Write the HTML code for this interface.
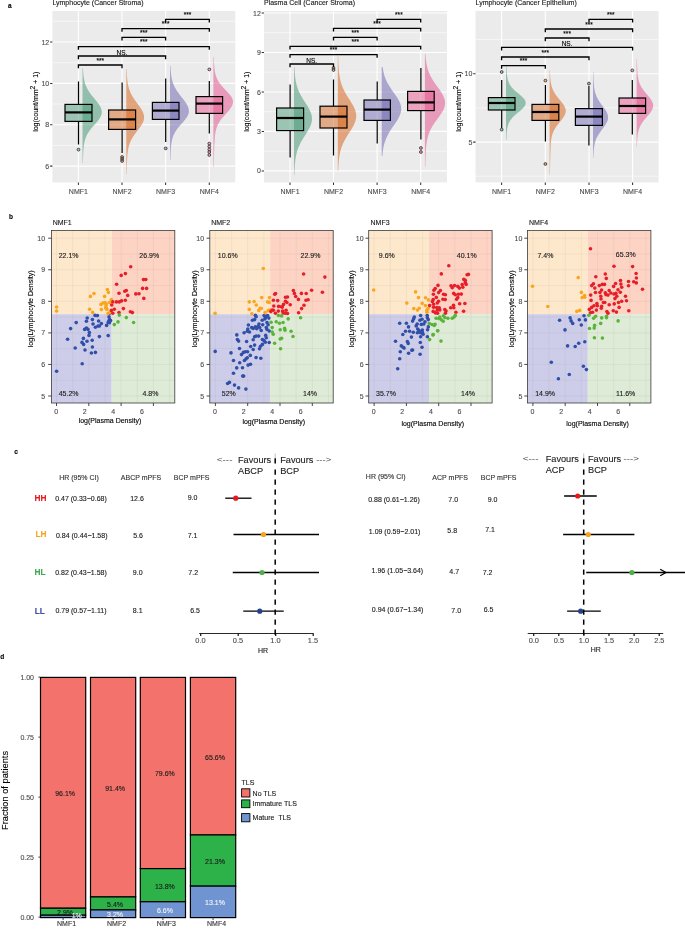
<!DOCTYPE html>
<html lang="en"><head><meta charset="utf-8"><title>Figure</title>
<style>html,body{margin:0;padding:0;background:#fff}body{width:685px;height:929px;overflow:hidden}svg{display:block;font-family:'Liberation Sans', sans-serif}text{stroke-width:0.12px}</style>
</head><body>
<svg width="685" height="929" viewBox="0 0 685 929">
<rect width="685" height="929" fill="#fff"/>
<text x="9.8" y="7.53" font-size="6.5" fill="#000" stroke="#000" text-anchor="middle" font-weight="bold">a</text>
<text x="11" y="219.33" font-size="6.5" fill="#000" stroke="#000" text-anchor="middle" font-weight="bold">b</text>
<text x="16" y="453.83" font-size="6.5" fill="#000" stroke="#000" text-anchor="middle" font-weight="bold">c</text>
<text x="2.2" y="658.83" font-size="6.5" fill="#000" stroke="#000" text-anchor="middle" font-weight="bold">d</text>
<g>
<rect x="52.4" y="11" width="182.9" height="171.4" fill="#EBEBEB"/>
<path d="M52.4 21.3H235.3M52.4 62.7H235.3M52.4 104H235.3M52.4 145.4H235.3" stroke="#fff" stroke-width="0.55" fill="none"/>
<path d="M52.4 42H235.3M52.4 83.4H235.3M52.4 124.7H235.3M52.4 166.1H235.3M78.4 11V182.4M122 11V182.4M165.6 11V182.4M209.3 11V182.4" stroke="#fff" stroke-width="1.1" fill="none"/>
<path d="M82.5 68L82.95 68L83.01 69.36L83.09 70.71L83.18 72.07L83.29 73.43L83.42 74.79L83.57 76.14L83.76 77.5L83.98 78.86L84.25 80.21L84.56 81.57L84.93 82.93L85.37 84.29L85.87 85.64L86.45 87L87.1 88.36L87.84 89.71L88.66 91.07L89.55 92.43L90.52 93.79L91.55 95.14L92.64 96.5L93.75 97.86L94.88 99.21L96.01 100.57L97.1 101.93L98.14 103.29L99.09 104.64L99.93 106L100.63 107.36L101.19 108.71L101.57 110.07L101.77 111.43L101.78 112.79L101.58 114.14L101.16 115.5L100.55 116.86L99.77 118.21L98.84 119.57L97.79 120.93L96.65 122.29L95.47 123.64L94.26 125L93.06 126.36L91.9 127.71L90.79 129.07L89.76 130.43L88.8 131.79L87.95 133.14L87.18 134.5L86.51 135.86L85.93 137.21L85.43 138.57L85 139.93L84.65 141.29L84.35 142.64L84.1 144L83.9 145.36L83.73 146.71L83.59 148.07L83.47 149.43L83.37 150.79L83.29 152.14L83.22 153.5L83.15 154.86L83.1 156.21L83.05 157.57L83 158.93L82.96 160.29L82.92 161.64L82.88 163L82.5 163Z" fill="#429872" fill-opacity="0.52"/>
<path d="M126.3 69L126.68 69L126.73 70.5L126.79 72L126.86 73.5L126.94 75L127.03 76.5L127.15 78L127.29 79.5L127.46 81L127.66 82.5L127.91 84L128.2 85.5L128.56 87L128.97 88.5L129.46 90L130.03 91.5L130.68 93L131.42 94.5L132.24 96L133.15 97.5L134.12 99L135.16 100.5L136.25 102L137.36 103.5L138.47 105L139.56 106.5L140.59 108L141.54 109.5L142.37 111L143.06 112.5L143.59 114L143.94 115.5L144.09 117L144.04 118.5L143.78 120L143.31 121.5L142.65 123L141.84 124.5L140.89 126L139.84 127.5L138.72 129L137.57 130.5L136.42 132L135.3 133.5L134.23 135L133.22 136.5L132.3 138L131.47 139.5L130.73 141L130.08 142.5L129.52 144L129.04 145.5L128.64 147L128.31 148.5L128.03 150L127.8 151.5L127.61 153L127.46 154.5L127.33 156L127.23 157.5L127.14 159L127.06 160.5L127 162L126.94 163.5L126.89 165L126.84 166.5L126.8 168L126.76 169.5L126.72 171L126.69 172.5L126.65 174L126.3 174Z" fill="#D66117" fill-opacity="0.52"/>
<path d="M170 66L170.44 66L170.51 67.34L170.58 68.69L170.67 70.03L170.77 71.37L170.89 72.71L171.04 74.06L171.22 75.4L171.42 76.74L171.67 78.09L171.96 79.43L172.3 80.77L172.69 82.11L173.15 83.46L173.67 84.8L174.26 86.14L174.93 87.49L175.67 88.83L176.48 90.17L177.36 91.51L178.3 92.86L179.29 94.2L180.32 95.54L181.38 96.89L182.45 98.23L183.5 99.57L184.52 100.91L185.48 102.26L186.36 103.6L187.13 104.94L187.79 106.29L188.3 107.63L188.67 108.97L188.86 110.31L188.89 111.66L188.71 113L188.31 114.34L187.73 115.69L186.96 117.03L186.05 118.37L185.02 119.71L183.91 121.06L182.74 122.4L181.55 123.74L180.37 125.09L179.22 126.43L178.12 127.77L177.1 129.11L176.16 130.46L175.31 131.8L174.56 133.14L173.9 134.49L173.32 135.83L172.83 137.17L172.41 138.51L172.06 139.86L171.77 141.2L171.53 142.54L171.33 143.89L171.16 145.23L171.03 146.57L170.91 147.91L170.82 149.26L170.74 150.6L170.66 151.94L170.6 153.29L170.55 154.63L170.5 155.97L170.46 157.31L170.42 158.66L170.38 160L170 160Z" fill="#6E66B3" fill-opacity="0.52"/>
<path d="M213.4 57L213.8 57L213.85 58.57L213.91 60.14L213.98 61.71L214.06 63.29L214.15 64.86L214.27 66.43L214.41 68L214.6 69.57L214.82 71.14L215.11 72.71L215.47 74.29L215.92 75.86L216.48 77.43L217.16 79L217.97 80.57L218.93 82.14L220.03 83.71L221.26 85.29L222.62 86.86L224.07 88.43L225.57 90L227.08 91.57L228.53 93.14L229.87 94.71L231.04 96.29L231.97 97.86L232.62 99.43L232.96 101L232.96 102.57L232.66 104.14L232.07 105.71L231.23 107.29L230.16 108.86L228.93 110.43L227.58 112L226.16 113.57L224.74 115.14L223.35 116.71L222.03 118.29L220.82 119.86L219.72 121.43L218.76 123L217.92 124.57L217.22 126.14L216.63 127.71L216.15 129.29L215.76 130.86L215.45 132.43L215.2 134L215.01 135.57L214.85 137.14L214.72 138.71L214.62 140.29L214.53 141.86L214.46 143.43L214.39 145L214.33 146.57L214.27 148.14L214.22 149.71L214.17 151.29L214.13 152.86L214.08 154.43L214.04 156L214 157.57L213.96 159.14L213.92 160.71L213.89 162.29L213.85 163.86L213.82 165.43L213.79 167L213.4 167Z" fill="#E7518D" fill-opacity="0.52"/>
<circle cx="78.5" cy="149.6" r="1.4" fill="#429872" fill-opacity="0.5" stroke="#2a2a2a" stroke-width="0.8"/>
<path d="M78.5 81.6V104.4M78.5 121.4V144.4" stroke="#000" stroke-width="1.2" fill="none"/>
<rect x="65" y="104.4" width="27" height="17" fill="#429872" fill-opacity="0.48" stroke="#000" stroke-width="1.2"/>
<path d="M65 112.4H92" stroke="#000" stroke-width="2.2" fill="none"/>
<circle cx="122.1" cy="157" r="1.4" fill="#D66117" fill-opacity="0.5" stroke="#2a2a2a" stroke-width="0.8"/>
<circle cx="122.1" cy="159" r="1.4" fill="#D66117" fill-opacity="0.5" stroke="#2a2a2a" stroke-width="0.8"/>
<circle cx="122.1" cy="161" r="1.4" fill="#D66117" fill-opacity="0.5" stroke="#2a2a2a" stroke-width="0.8"/>
<path d="M122.1 82.4V110M122.1 129.4V153" stroke="#000" stroke-width="1.2" fill="none"/>
<rect x="108.6" y="110" width="27" height="19.4" fill="#D66117" fill-opacity="0.48" stroke="#000" stroke-width="1.2"/>
<path d="M108.6 119.4H135.6" stroke="#000" stroke-width="2.2" fill="none"/>
<circle cx="165.7" cy="148.4" r="1.4" fill="#6E66B3" fill-opacity="0.5" stroke="#2a2a2a" stroke-width="0.8"/>
<path d="M165.7 78.6V102.4M165.7 119.4V142" stroke="#000" stroke-width="1.2" fill="none"/>
<rect x="152.4" y="102.4" width="26.6" height="17" fill="#6E66B3" fill-opacity="0.48" stroke="#000" stroke-width="1.2"/>
<path d="M152.4 110.6H179" stroke="#000" stroke-width="2.2" fill="none"/>
<circle cx="209.3" cy="69.4" r="1.4" fill="#E7518D" fill-opacity="0.5" stroke="#2a2a2a" stroke-width="0.8"/>
<circle cx="209.3" cy="143.6" r="1.4" fill="#E7518D" fill-opacity="0.5" stroke="#2a2a2a" stroke-width="0.8"/>
<circle cx="209.3" cy="146.5" r="1.4" fill="#E7518D" fill-opacity="0.5" stroke="#2a2a2a" stroke-width="0.8"/>
<circle cx="209.3" cy="149.5" r="1.4" fill="#E7518D" fill-opacity="0.5" stroke="#2a2a2a" stroke-width="0.8"/>
<circle cx="209.3" cy="152" r="1.4" fill="#E7518D" fill-opacity="0.5" stroke="#2a2a2a" stroke-width="0.8"/>
<circle cx="209.3" cy="155" r="1.4" fill="#E7518D" fill-opacity="0.5" stroke="#2a2a2a" stroke-width="0.8"/>
<path d="M209.3 81V96.6M209.3 113.4V133.6" stroke="#000" stroke-width="1.2" fill="none"/>
<rect x="196" y="96.6" width="26.6" height="16.8" fill="#E7518D" fill-opacity="0.48" stroke="#000" stroke-width="1.2"/>
<path d="M196 103.6H222.6" stroke="#000" stroke-width="2.2" fill="none"/>
<path d="M78.4 68.2V65H122V68.2" stroke="#000" stroke-width="1.3" fill="none"/>
<text x="100.2" y="62.7" font-size="6.5" fill="#000" stroke="#000" text-anchor="middle">***</text>
<path d="M78.4 59.2V56H165.6V59.2" stroke="#000" stroke-width="1.3" fill="none"/>
<text x="122" y="54.8" font-size="6.5" fill="#000" stroke="#000" text-anchor="middle">NS.</text>
<path d="M78.4 49.8V46.6H209.3V49.8" stroke="#000" stroke-width="1.3" fill="none"/>
<text x="143.85" y="44.3" font-size="6.5" fill="#000" stroke="#000" text-anchor="middle">***</text>
<path d="M122 40.6V37.4H165.6V40.6" stroke="#000" stroke-width="1.3" fill="none"/>
<text x="143.8" y="35.1" font-size="6.5" fill="#000" stroke="#000" text-anchor="middle">***</text>
<path d="M122 31.8V28.6H209.3V31.8" stroke="#000" stroke-width="1.3" fill="none"/>
<text x="165.65" y="26.3" font-size="6.5" fill="#000" stroke="#000" text-anchor="middle">***</text>
<path d="M165.6 22.6V19.4H209.3V22.6" stroke="#000" stroke-width="1.3" fill="none"/>
<text x="187.45" y="17.1" font-size="6.5" fill="#000" stroke="#000" text-anchor="middle">***</text>
<text x="49.2" y="44.51" font-size="7" fill="#4D4D4D" stroke="#4D4D4D" text-anchor="end">12</text>
<text x="49.2" y="85.91" font-size="7" fill="#4D4D4D" stroke="#4D4D4D" text-anchor="end">10</text>
<text x="49.2" y="127.21" font-size="7" fill="#4D4D4D" stroke="#4D4D4D" text-anchor="end">8</text>
<text x="49.2" y="168.61" font-size="7" fill="#4D4D4D" stroke="#4D4D4D" text-anchor="end">6</text>
<text x="78.4" y="194.01" font-size="7" fill="#4D4D4D" stroke="#4D4D4D" text-anchor="middle">NMF1</text>
<text x="122" y="194.01" font-size="7" fill="#4D4D4D" stroke="#4D4D4D" text-anchor="middle">NMF2</text>
<text x="165.6" y="194.01" font-size="7" fill="#4D4D4D" stroke="#4D4D4D" text-anchor="middle">NMF3</text>
<text x="209.3" y="194.01" font-size="7" fill="#4D4D4D" stroke="#4D4D4D" text-anchor="middle">NMF4</text>
<path d="M50.1 42H52.4M50.1 83.4H52.4M50.1 124.7H52.4M50.1 166.1H52.4M78.4 182.4V185.1M122 182.4V185.1M165.6 182.4V185.1M209.3 182.4V185.1" stroke="#333" stroke-width="1.05" fill="none"/>
<text x="52.4" y="4.9" font-size="7" fill="#1a1a1a" stroke="#1a1a1a">Lymphocyte (Cancer Stroma)</text>
<text x="37.6" y="101.7" font-size="7" fill="#000" stroke="#000" text-anchor="middle" transform="rotate(-90 37.6 101.7)">log(count/mm<tspan dy="-2.6" font-size="6.6">2</tspan><tspan dy="2.6"> + 1)</tspan></text>
</g>
<g>
<rect x="264" y="11" width="183" height="171.4" fill="#EBEBEB"/>
<path d="M264 32.7H447M264 72.2H447M264 111.7H447M264 151.2H447" stroke="#fff" stroke-width="0.55" fill="none"/>
<path d="M264 13H447M264 52.5H447M264 92H447M264 131.4H447M264 170.9H447M290 11V182.4M333.5 11V182.4M377.1 11V182.4M420.7 11V182.4" stroke="#fff" stroke-width="1.1" fill="none"/>
<path d="M294 67L294.44 67L294.51 68.54L294.59 70.09L294.68 71.63L294.79 73.17L294.92 74.71L295.08 76.26L295.26 77.8L295.48 79.34L295.73 80.89L296.03 82.43L296.38 83.97L296.78 85.51L297.24 87.06L297.77 88.6L298.35 90.14L299.01 91.69L299.73 93.23L300.52 94.77L301.36 96.31L302.26 97.86L303.2 99.4L304.18 100.94L305.17 102.49L306.16 104.03L307.13 105.57L308.07 107.11L308.94 108.66L309.74 110.2L310.45 111.74L311.03 113.29L311.49 114.83L311.81 116.37L311.97 117.91L311.99 119.46L311.84 121L311.55 122.54L311.11 124.09L310.55 125.63L309.86 127.17L309.08 128.71L308.22 130.26L307.3 131.8L306.33 133.34L305.35 134.89L304.36 136.43L303.39 137.97L302.45 139.51L301.55 141.06L300.7 142.6L299.92 144.14L299.19 145.69L298.53 147.23L297.94 148.77L297.41 150.31L296.94 151.86L296.54 153.4L296.18 154.94L295.88 156.49L295.62 158.03L295.4 159.57L295.21 161.11L295.05 162.66L294.91 164.2L294.8 165.74L294.7 167.29L294.62 168.83L294.55 170.37L294.49 171.91L294.44 173.46L294.39 175L294 175Z" fill="#429872" fill-opacity="0.52"/>
<path d="M337.8 56L338.18 56L338.23 57.64L338.27 59.29L338.33 60.93L338.39 62.57L338.46 64.21L338.55 65.86L338.65 67.5L338.76 69.14L338.9 70.79L339.07 72.43L339.26 74.07L339.5 75.71L339.77 77.36L340.09 79L340.47 80.64L340.9 82.29L341.41 83.93L341.97 85.57L342.62 87.21L343.33 88.86L344.12 90.5L344.97 92.14L345.89 93.79L346.86 95.43L347.87 97.07L348.91 98.71L349.96 100.36L350.99 102L351.99 103.64L352.92 105.29L353.78 106.93L354.54 108.57L355.17 110.21L355.67 111.86L356 113.5L356.18 115.14L356.18 116.79L356.01 118.43L355.68 120.07L355.19 121.71L354.56 123.36L353.81 125L352.95 126.64L352.01 128.29L351 129.93L349.97 131.57L348.92 133.21L347.87 134.86L346.85 136.5L345.87 138.14L344.94 139.79L344.08 141.43L343.28 143.07L342.56 144.71L341.91 146.36L341.33 148L340.82 149.64L340.38 151.29L340 152.93L339.67 154.57L339.39 156.21L339.16 157.86L338.96 159.5L338.79 161.14L338.65 162.79L338.54 164.43L338.44 166.07L338.35 167.71L338.28 169.36L338.22 171L337.8 171Z" fill="#D66117" fill-opacity="0.52"/>
<path d="M381.7 67L382.66 67L382.83 68.27L383.03 69.54L383.26 70.81L383.52 72.09L383.82 73.36L384.15 74.63L384.53 75.9L384.96 77.17L385.43 78.44L385.95 79.71L386.52 80.99L387.15 82.26L387.82 83.53L388.54 84.8L389.31 86.07L390.11 87.34L390.96 88.61L391.83 89.89L392.72 91.16L393.62 92.43L394.52 93.7L395.41 94.97L396.28 96.24L397.12 97.51L397.91 98.79L398.63 100.06L399.29 101.33L399.86 102.6L400.34 103.87L400.72 105.14L401 106.41L401.16 107.69L401.2 108.96L401.13 110.23L400.95 111.5L400.67 112.77L400.29 114.04L399.81 115.31L399.25 116.59L398.6 117.86L397.9 119.13L397.13 120.4L396.33 121.67L395.49 122.94L394.62 124.21L393.75 125.49L392.88 126.76L392.02 128.03L391.17 129.3L390.35 130.57L389.57 131.84L388.82 133.11L388.11 134.39L387.45 135.66L386.83 136.93L386.26 138.2L385.74 139.47L385.26 140.74L384.83 142.01L384.44 143.29L384.1 144.56L383.79 145.83L383.52 147.1L383.28 148.37L383.07 149.64L382.89 150.91L382.73 152.19L382.59 153.46L382.47 154.73L382.36 156L381.7 156Z" fill="#6E66B3" fill-opacity="0.52"/>
<path d="M424.9 54L425.47 54L425.57 55.61L425.69 57.21L425.84 58.82L426.02 60.43L426.24 62.04L426.49 63.64L426.8 65.25L427.15 66.86L427.57 68.46L428.06 70.07L428.62 71.68L429.25 73.29L429.97 74.89L430.77 76.5L431.65 78.11L432.61 79.71L433.63 81.32L434.72 82.93L435.85 84.54L437 86.14L438.17 87.75L439.32 89.36L440.43 90.96L441.48 92.57L442.43 94.18L443.27 95.79L443.97 97.39L444.52 99L444.89 100.61L445.08 102.21L445.07 103.82L444.87 105.43L444.48 107.04L443.91 108.64L443.17 110.25L442.3 111.86L441.31 113.46L440.23 115.07L439.09 116.68L437.92 118.29L436.74 119.89L435.58 121.5L434.45 123.11L433.39 124.71L432.38 126.32L431.46 127.93L430.62 129.54L429.87 131.14L429.2 132.75L428.61 134.36L428.1 135.96L427.66 137.57L427.29 139.18L426.97 140.79L426.7 142.39L426.48 144L426.29 145.61L426.13 147.21L426 148.82L425.89 150.43L425.79 152.04L425.71 153.64L425.64 155.25L425.57 156.86L425.52 158.46L425.47 160.07L425.42 161.68L425.38 163.29L425.34 164.89L425.3 166.5L424.9 166.5Z" fill="#E7518D" fill-opacity="0.52"/>
<path d="M290.1 84.6V108M290.1 130.6V157.6" stroke="#000" stroke-width="1.2" fill="none"/>
<rect x="276.6" y="108" width="27" height="22.6" fill="#429872" fill-opacity="0.48" stroke="#000" stroke-width="1.2"/>
<path d="M276.6 118H303.6" stroke="#000" stroke-width="2.2" fill="none"/>
<circle cx="333.5" cy="68" r="1.4" fill="#D66117" fill-opacity="0.5" stroke="#2a2a2a" stroke-width="0.8"/>
<circle cx="333.5" cy="70" r="1.4" fill="#D66117" fill-opacity="0.5" stroke="#2a2a2a" stroke-width="0.8"/>
<path d="M333.5 79.4V106.2M333.5 128V155.6" stroke="#000" stroke-width="1.2" fill="none"/>
<rect x="320" y="106.2" width="27" height="21.8" fill="#D66117" fill-opacity="0.48" stroke="#000" stroke-width="1.2"/>
<path d="M320 116.6H347" stroke="#000" stroke-width="2.2" fill="none"/>
<path d="M377.2 81.4V100M377.2 120.4V143.6" stroke="#000" stroke-width="1.2" fill="none"/>
<rect x="364" y="100" width="26.4" height="20.4" fill="#6E66B3" fill-opacity="0.48" stroke="#000" stroke-width="1.2"/>
<path d="M364 109.6H390.4" stroke="#000" stroke-width="2.2" fill="none"/>
<circle cx="420.9" cy="148" r="1.4" fill="#E7518D" fill-opacity="0.5" stroke="#2a2a2a" stroke-width="0.8"/>
<circle cx="420.9" cy="152" r="1.4" fill="#E7518D" fill-opacity="0.5" stroke="#2a2a2a" stroke-width="0.8"/>
<path d="M420.9 68V91.4M420.9 110.6V139.4" stroke="#000" stroke-width="1.2" fill="none"/>
<rect x="407.6" y="91.4" width="26.6" height="19.2" fill="#E7518D" fill-opacity="0.48" stroke="#000" stroke-width="1.2"/>
<path d="M407.6 102.4H434.2" stroke="#000" stroke-width="2.2" fill="none"/>
<path d="M290 67.2V64H333.5V67.2" stroke="#000" stroke-width="1.3" fill="none"/>
<text x="311.75" y="62.8" font-size="6.5" fill="#000" stroke="#000" text-anchor="middle">NS.</text>
<path d="M290 57.8V54.6H377.1V57.8" stroke="#000" stroke-width="1.3" fill="none"/>
<text x="333.55" y="52.3" font-size="6.5" fill="#000" stroke="#000" text-anchor="middle">***</text>
<path d="M290 49.5V46.3H420.7V49.5" stroke="#000" stroke-width="1.3" fill="none"/>
<text x="355.35" y="44" font-size="6.5" fill="#000" stroke="#000" text-anchor="middle">***</text>
<path d="M333.5 40.6V37.4H377.1V40.6" stroke="#000" stroke-width="1.3" fill="none"/>
<text x="355.3" y="35.1" font-size="6.5" fill="#000" stroke="#000" text-anchor="middle">***</text>
<path d="M333.5 31.6V28.4H420.7V31.6" stroke="#000" stroke-width="1.3" fill="none"/>
<text x="377.1" y="26.1" font-size="6.5" fill="#000" stroke="#000" text-anchor="middle">***</text>
<path d="M377.1 22.6V19.4H420.7V22.6" stroke="#000" stroke-width="1.3" fill="none"/>
<text x="398.9" y="17.1" font-size="6.5" fill="#000" stroke="#000" text-anchor="middle">***</text>
<text x="260.8" y="15.51" font-size="7" fill="#4D4D4D" stroke="#4D4D4D" text-anchor="end">12</text>
<text x="260.8" y="55.01" font-size="7" fill="#4D4D4D" stroke="#4D4D4D" text-anchor="end">9</text>
<text x="260.8" y="94.51" font-size="7" fill="#4D4D4D" stroke="#4D4D4D" text-anchor="end">6</text>
<text x="260.8" y="133.91" font-size="7" fill="#4D4D4D" stroke="#4D4D4D" text-anchor="end">3</text>
<text x="260.8" y="173.41" font-size="7" fill="#4D4D4D" stroke="#4D4D4D" text-anchor="end">0</text>
<text x="290" y="194.01" font-size="7" fill="#4D4D4D" stroke="#4D4D4D" text-anchor="middle">NMF1</text>
<text x="333.5" y="194.01" font-size="7" fill="#4D4D4D" stroke="#4D4D4D" text-anchor="middle">NMF2</text>
<text x="377.1" y="194.01" font-size="7" fill="#4D4D4D" stroke="#4D4D4D" text-anchor="middle">NMF3</text>
<text x="420.7" y="194.01" font-size="7" fill="#4D4D4D" stroke="#4D4D4D" text-anchor="middle">NMF4</text>
<path d="M261.7 13H264M261.7 52.5H264M261.7 92H264M261.7 131.4H264M261.7 170.9H264M290 182.4V185.1M333.5 182.4V185.1M377.1 182.4V185.1M420.7 182.4V185.1" stroke="#333" stroke-width="1.05" fill="none"/>
<text x="264" y="4.9" font-size="7" fill="#1a1a1a" stroke="#1a1a1a">Plasma Cell (Cancer Stroma)</text>
<text x="249.1" y="101.7" font-size="7" fill="#000" stroke="#000" text-anchor="middle" transform="rotate(-90 249.1 101.7)">log(count/mm<tspan dy="-2.6" font-size="6.6">2</tspan><tspan dy="2.6"> + 1)</tspan></text>
</g>
<g>
<rect x="475.5" y="11" width="183.1" height="171.4" fill="#EBEBEB"/>
<path d="M475.5 39.4H658.6M475.5 107.8H658.6M475.5 176.2H658.6" stroke="#fff" stroke-width="0.55" fill="none"/>
<path d="M475.5 73.8H658.6M475.5 142.1H658.6M501.6 11V182.4M545.3 11V182.4M589 11V182.4M632.6 11V182.4" stroke="#fff" stroke-width="1.1" fill="none"/>
<path d="M506 64.5L506.39 64.5L506.43 65.58L506.47 66.66L506.52 67.74L506.57 68.81L506.62 69.89L506.69 70.97L506.76 72.05L506.84 73.13L506.93 74.21L507.05 75.29L507.19 76.36L507.35 77.44L507.56 78.52L507.8 79.6L508.1 80.68L508.47 81.76L508.91 82.84L509.43 83.91L510.05 84.99L510.77 86.07L511.6 87.15L512.53 88.23L513.56 89.31L514.69 90.39L515.89 91.46L517.16 92.54L518.45 93.62L519.75 94.7L521 95.78L522.18 96.86L523.25 97.94L524.15 99.01L524.88 100.09L525.38 101.17L525.65 102.25L525.68 103.33L525.46 104.41L525 105.49L524.32 106.56L523.44 107.64L522.41 108.72L521.25 109.8L520 110.88L518.71 111.96L517.41 113.04L516.13 114.11L514.91 115.19L513.76 116.27L512.71 117.35L511.75 118.43L510.9 119.51L510.16 120.59L509.52 121.66L508.97 122.74L508.51 123.82L508.13 124.9L507.82 125.98L507.56 127.06L507.34 128.14L507.17 129.21L507.03 130.29L506.91 131.37L506.81 132.45L506.72 133.53L506.65 134.61L506.59 135.69L506.53 136.76L506.48 137.84L506.44 138.92L506.4 140L506 140Z" fill="#429872" fill-opacity="0.52"/>
<path d="M549.6 70.5L549.94 70.5L549.99 71.99L550.04 73.47L550.11 74.96L550.2 76.44L550.3 77.93L550.43 79.41L550.59 80.9L550.8 82.39L551.06 83.87L551.38 85.36L551.79 86.84L552.29 88.33L552.89 89.81L553.6 91.3L554.43 92.79L555.39 94.27L556.44 95.76L557.6 97.24L558.81 98.73L560.06 100.21L561.3 101.7L562.48 103.19L563.54 104.67L564.45 106.16L565.15 107.64L565.6 109.13L565.79 110.61L565.71 112.1L565.36 113.59L564.76 115.07L563.94 116.56L562.95 118.04L561.83 119.53L560.63 121.01L559.41 122.5L558.21 123.99L557.05 125.47L555.99 126.96L555.03 128.44L554.18 129.93L553.45 131.41L552.84 132.9L552.33 134.39L551.92 135.87L551.59 137.36L551.33 138.84L551.13 140.33L550.97 141.81L550.84 143.3L550.74 144.79L550.66 146.27L550.59 147.76L550.53 149.24L550.48 150.73L550.43 152.21L550.38 153.7L550.34 155.19L550.3 156.67L550.26 158.16L550.23 159.64L550.19 161.13L550.16 162.61L550.12 164.1L550.09 165.59L550.06 167.07L550.03 168.56L550 170.04L549.97 171.53L549.95 173.01L549.92 174.5L549.6 174.5Z" fill="#D66117" fill-opacity="0.52"/>
<path d="M593 72L593.3 72L593.33 73.23L593.37 74.46L593.4 75.69L593.44 76.91L593.49 78.14L593.54 79.37L593.6 80.6L593.66 81.83L593.74 83.06L593.84 84.29L593.95 85.51L594.09 86.74L594.25 87.97L594.45 89.2L594.68 90.43L594.96 91.66L595.29 92.89L595.67 94.11L596.12 95.34L596.63 96.57L597.22 97.8L597.87 99.03L598.59 100.26L599.37 101.49L600.2 102.71L601.08 103.94L601.99 105.17L602.9 106.4L603.81 107.63L604.69 108.86L605.51 110.09L606.25 111.31L606.89 112.54L607.41 113.77L607.8 115L608.03 116.23L608.1 117.46L608.01 118.69L607.76 119.91L607.37 121.14L606.83 122.37L606.18 123.6L605.42 124.83L604.59 126.06L603.7 127.29L602.79 128.51L601.86 129.74L600.95 130.97L600.07 132.2L599.23 133.43L598.45 134.66L597.73 135.89L597.08 137.11L596.5 138.34L595.98 139.57L595.53 140.8L595.15 142.03L594.82 143.26L594.54 144.49L594.31 145.71L594.11 146.94L593.95 148.17L593.82 149.4L593.7 150.63L593.61 151.86L593.53 153.09L593.47 154.31L593.41 155.54L593.36 156.77L593.32 158L593 158Z" fill="#6E66B3" fill-opacity="0.52"/>
<path d="M636.6 59L636.93 59L636.96 60.25L636.99 61.5L637.03 62.75L637.07 64L637.11 65.25L637.15 66.5L637.21 67.75L637.26 69L637.33 70.25L637.41 71.5L637.5 72.75L637.61 74L637.74 75.25L637.91 76.5L638.1 77.75L638.34 79L638.63 80.25L638.97 81.5L639.38 82.75L639.87 84L640.43 85.25L641.08 86.5L641.82 87.75L642.64 89L643.53 90.25L644.5 91.5L645.52 92.75L646.58 94L647.65 95.25L648.7 96.5L649.71 97.75L650.64 99L651.47 100.25L652.16 101.5L652.69 102.75L653.04 104L653.19 105.25L653.15 106.5L652.9 107.75L652.47 109L651.87 110.25L651.11 111.5L650.23 112.75L649.25 114L648.21 115.25L647.14 116.5L646.07 117.75L645.01 119L644 120.25L643.06 121.5L642.18 122.75L641.39 124L640.68 125.25L640.06 126.5L639.53 127.75L639.07 129L638.68 130.25L638.35 131.5L638.08 132.75L637.86 134L637.68 135.25L637.53 136.5L637.4 137.75L637.3 139L637.21 140.25L637.14 141.5L637.08 142.75L637.03 144L636.98 145.25L636.94 146.5L636.6 146.5Z" fill="#E7518D" fill-opacity="0.52"/>
<circle cx="501.7" cy="72" r="1.4" fill="#429872" fill-opacity="0.5" stroke="#2a2a2a" stroke-width="0.8"/>
<circle cx="501.7" cy="129.6" r="1.4" fill="#429872" fill-opacity="0.5" stroke="#2a2a2a" stroke-width="0.8"/>
<path d="M501.7 80V97.6M501.7 110V128" stroke="#000" stroke-width="1.2" fill="none"/>
<rect x="488.4" y="97.6" width="26.6" height="12.4" fill="#429872" fill-opacity="0.48" stroke="#000" stroke-width="1.2"/>
<path d="M488.4 103H515" stroke="#000" stroke-width="2.2" fill="none"/>
<circle cx="545.4" cy="80.6" r="1.4" fill="#D66117" fill-opacity="0.5" stroke="#2a2a2a" stroke-width="0.8"/>
<circle cx="545.4" cy="164" r="1.4" fill="#D66117" fill-opacity="0.5" stroke="#2a2a2a" stroke-width="0.8"/>
<path d="M545.4 85V104.4M545.4 120.4V141.4" stroke="#000" stroke-width="1.2" fill="none"/>
<rect x="532" y="104.4" width="26.8" height="16" fill="#D66117" fill-opacity="0.48" stroke="#000" stroke-width="1.2"/>
<path d="M532 112H558.8" stroke="#000" stroke-width="2.2" fill="none"/>
<circle cx="588.9" cy="83.6" r="1.4" fill="#6E66B3" fill-opacity="0.5" stroke="#2a2a2a" stroke-width="0.8"/>
<path d="M588.9 86V108.6M588.9 125.4V145.4" stroke="#000" stroke-width="1.2" fill="none"/>
<rect x="575.4" y="108.6" width="27" height="16.8" fill="#6E66B3" fill-opacity="0.48" stroke="#000" stroke-width="1.2"/>
<path d="M575.4 116.6H602.4" stroke="#000" stroke-width="2.2" fill="none"/>
<circle cx="632.3" cy="70.4" r="1.4" fill="#E7518D" fill-opacity="0.5" stroke="#2a2a2a" stroke-width="0.8"/>
<path d="M632.3 80V98M632.3 113.4V134.4" stroke="#000" stroke-width="1.2" fill="none"/>
<rect x="619" y="98" width="26.6" height="15.4" fill="#E7518D" fill-opacity="0.48" stroke="#000" stroke-width="1.2"/>
<path d="M619 106H645.6" stroke="#000" stroke-width="2.2" fill="none"/>
<path d="M501.6 68.8V65.6H545.3V68.8" stroke="#000" stroke-width="1.3" fill="none"/>
<text x="523.45" y="63.3" font-size="6.5" fill="#000" stroke="#000" text-anchor="middle">***</text>
<path d="M501.6 60.2V57H589V60.2" stroke="#000" stroke-width="1.3" fill="none"/>
<text x="545.3" y="54.7" font-size="6.5" fill="#000" stroke="#000" text-anchor="middle">***</text>
<path d="M501.6 50.6V47.4H632.6V50.6" stroke="#000" stroke-width="1.3" fill="none"/>
<text x="567.1" y="46.2" font-size="6.5" fill="#000" stroke="#000" text-anchor="middle">NS.</text>
<path d="M545.3 41.2V38H589V41.2" stroke="#000" stroke-width="1.3" fill="none"/>
<text x="567.15" y="35.7" font-size="6.5" fill="#000" stroke="#000" text-anchor="middle">***</text>
<path d="M545.3 32.2V29H632.6V32.2" stroke="#000" stroke-width="1.3" fill="none"/>
<text x="588.95" y="26.7" font-size="6.5" fill="#000" stroke="#000" text-anchor="middle">***</text>
<path d="M589 22.6V19.4H632.6V22.6" stroke="#000" stroke-width="1.3" fill="none"/>
<text x="610.8" y="17.1" font-size="6.5" fill="#000" stroke="#000" text-anchor="middle">***</text>
<text x="472.3" y="76.31" font-size="7" fill="#4D4D4D" stroke="#4D4D4D" text-anchor="end">10</text>
<text x="472.3" y="144.61" font-size="7" fill="#4D4D4D" stroke="#4D4D4D" text-anchor="end">5</text>
<text x="501.6" y="194.01" font-size="7" fill="#4D4D4D" stroke="#4D4D4D" text-anchor="middle">NMF1</text>
<text x="545.3" y="194.01" font-size="7" fill="#4D4D4D" stroke="#4D4D4D" text-anchor="middle">NMF2</text>
<text x="589" y="194.01" font-size="7" fill="#4D4D4D" stroke="#4D4D4D" text-anchor="middle">NMF3</text>
<text x="632.6" y="194.01" font-size="7" fill="#4D4D4D" stroke="#4D4D4D" text-anchor="middle">NMF4</text>
<path d="M473.2 73.8H475.5M473.2 142.1H475.5M501.6 182.4V185.1M545.3 182.4V185.1M589 182.4V185.1M632.6 182.4V185.1" stroke="#333" stroke-width="1.05" fill="none"/>
<text x="475.5" y="4.9" font-size="7" fill="#1a1a1a" stroke="#1a1a1a">Lymphocyte (Cancer Epithelium)</text>
<text x="460.7" y="101.7" font-size="7" fill="#000" stroke="#000" text-anchor="middle" transform="rotate(-90 460.7 101.7)">log(count/mm<tspan dy="-2.6" font-size="6.6">2</tspan><tspan dy="2.6"> + 1)</tspan></text>
</g>
<g>
<rect x="51.4" y="230.4" width="60.3" height="83.8" fill="#FEE8CC"/>
<rect x="111.7" y="230.4" width="63.1" height="83.8" fill="#FDD3C4"/>
<rect x="51.4" y="314.2" width="60.3" height="88.8" fill="#CDCDE9"/>
<rect x="111.7" y="314.2" width="63.1" height="88.8" fill="#DEEBD6"/>
<path d="M56.5 230.4V403M72.65 230.4V403M88.8 230.4V403M104.95 230.4V403M121.1 230.4V403M137.25 230.4V403M153.4 230.4V403M169.55 230.4V403M51.4 238.2H174.8M51.4 253.98H174.8M51.4 269.76H174.8M51.4 285.54H174.8M51.4 301.32H174.8M51.4 317.1H174.8M51.4 332.88H174.8M51.4 348.66H174.8M51.4 364.44H174.8M51.4 380.22H174.8M51.4 396H174.8" stroke="#8c8c8c" stroke-opacity="0.12" stroke-width="0.8" fill="none"/>
<g fill="#2F4FA8">
<circle cx="56.6" cy="371.2" r="1.8"/><circle cx="82.2" cy="363.8" r="1.8"/><circle cx="67.6" cy="339.2" r="1.8"/><circle cx="70.6" cy="328.6" r="1.8"/><circle cx="76.2" cy="322.6" r="1.8"/><circle cx="75.2" cy="348" r="1.8"/><circle cx="85" cy="350" r="1.8"/><circle cx="91.4" cy="353" r="1.8"/><circle cx="95.4" cy="352.4" r="1.8"/><circle cx="92.4" cy="347" r="1.8"/><circle cx="82" cy="342.4" r="1.8"/><circle cx="83.6" cy="344.4" r="1.8"/><circle cx="83.4" cy="338.4" r="1.8"/><circle cx="87" cy="341.2" r="1.8"/><circle cx="92.2" cy="340.2" r="1.8"/><circle cx="89" cy="335.4" r="1.8"/><circle cx="89.4" cy="332.6" r="1.8"/><circle cx="84.6" cy="329.4" r="1.8"/><circle cx="86.4" cy="328" r="1.8"/><circle cx="88" cy="329.4" r="1.8"/><circle cx="99.4" cy="336.6" r="1.8"/><circle cx="108.2" cy="335.6" r="1.8"/><circle cx="86.4" cy="321.2" r="1.8"/><circle cx="87.2" cy="318" r="1.8"/><circle cx="92.4" cy="319.6" r="1.8"/><circle cx="93" cy="324" r="1.8"/><circle cx="95.4" cy="327.2" r="1.8"/><circle cx="98" cy="326" r="1.8"/><circle cx="99.4" cy="326" r="1.8"/><circle cx="101.4" cy="323.6" r="1.8"/><circle cx="106.6" cy="325.4" r="1.8"/><circle cx="97.4" cy="315.6" r="1.8"/><circle cx="95" cy="315.4" r="1.8"/><circle cx="98.6" cy="321" r="1.8"/><circle cx="109" cy="317" r="1.8"/><circle cx="109.6" cy="319.6" r="1.8"/><circle cx="110.6" cy="320.6" r="1.8"/><circle cx="108.2" cy="322.4" r="1.8"/><circle cx="109" cy="314" r="1.8"/><circle cx="108.8" cy="321" r="1.8"/><circle cx="109.5" cy="322.8" r="1.8"/>
</g>
<g fill="#FAA51E">
<circle cx="56.6" cy="307" r="1.8"/><circle cx="56.6" cy="311" r="1.8"/><circle cx="90.4" cy="296.4" r="1.8"/><circle cx="94" cy="293.6" r="1.8"/><circle cx="89.6" cy="309.2" r="1.8"/><circle cx="92.6" cy="312.4" r="1.8"/><circle cx="104.6" cy="296.4" r="1.8"/><circle cx="107.4" cy="289.6" r="1.8"/><circle cx="108.4" cy="292.4" r="1.8"/><circle cx="111.4" cy="299.6" r="1.8"/><circle cx="101" cy="304.4" r="1.8"/><circle cx="103" cy="303" r="1.8"/><circle cx="105.4" cy="303" r="1.8"/><circle cx="101.4" cy="309.6" r="1.8"/><circle cx="106" cy="306" r="1.8"/><circle cx="107" cy="309.4" r="1.8"/><circle cx="109.6" cy="302.4" r="1.8"/><circle cx="108" cy="313.6" r="1.8"/><circle cx="110" cy="312.4" r="1.8"/><circle cx="105.6" cy="308" r="1.8"/><circle cx="106" cy="307.4" r="1.8"/><circle cx="106.3" cy="303.9" r="1.8"/><circle cx="104.6" cy="302.8" r="1.8"/>
</g>
<g fill="#E61E28">
<circle cx="130.7" cy="266.8" r="1.8"/><circle cx="121.2" cy="275.4" r="1.8"/><circle cx="125.4" cy="273.6" r="1.8"/><circle cx="143.5" cy="279.6" r="1.8"/><circle cx="145.8" cy="279.5" r="1.8"/><circle cx="116.6" cy="284.3" r="1.8"/><circle cx="142.6" cy="288.4" r="1.8"/><circle cx="146.6" cy="288.4" r="1.8"/><circle cx="119" cy="293.3" r="1.8"/><circle cx="124.8" cy="291.3" r="1.8"/><circle cx="126.3" cy="290.5" r="1.8"/><circle cx="127.7" cy="295.4" r="1.8"/><circle cx="135.8" cy="293.9" r="1.8"/><circle cx="139" cy="293.8" r="1.8"/><circle cx="143.8" cy="298.4" r="1.8"/><circle cx="112.8" cy="301.9" r="1.8"/><circle cx="116.4" cy="301.9" r="1.8"/><circle cx="119.3" cy="301.9" r="1.8"/><circle cx="121.5" cy="300.9" r="1.8"/><circle cx="125.3" cy="300.3" r="1.8"/><circle cx="111.7" cy="305" r="1.8"/><circle cx="114.3" cy="309.2" r="1.8"/><circle cx="123.4" cy="308.6" r="1.8"/><circle cx="111.4" cy="310.4" r="1.8"/><circle cx="112.8" cy="313.3" r="1.8"/><circle cx="119" cy="312.6" r="1.8"/><circle cx="130.4" cy="311.7" r="1.8"/><circle cx="132.4" cy="312.6" r="1.8"/>
</g>
<g fill="#5AB43C">
<circle cx="119.3" cy="315.1" r="1.8"/><circle cx="126.3" cy="317.6" r="1.8"/><circle cx="133.6" cy="322.5" r="1.8"/><circle cx="118" cy="321.9" r="1.8"/><circle cx="114.3" cy="324.6" r="1.8"/>
</g>
<rect x="51.4" y="230.4" width="123.4" height="172.6" fill="none" stroke="#3a3a3a" stroke-width="0.8"/>
<text x="45.1" y="240.71" font-size="7" fill="#4D4D4D" stroke="#4D4D4D" text-anchor="end">10</text>
<text x="45.1" y="272.27" font-size="7" fill="#4D4D4D" stroke="#4D4D4D" text-anchor="end">9</text>
<text x="45.1" y="303.83" font-size="7" fill="#4D4D4D" stroke="#4D4D4D" text-anchor="end">8</text>
<text x="45.1" y="335.39" font-size="7" fill="#4D4D4D" stroke="#4D4D4D" text-anchor="end">7</text>
<text x="45.1" y="366.95" font-size="7" fill="#4D4D4D" stroke="#4D4D4D" text-anchor="end">6</text>
<text x="45.1" y="398.51" font-size="7" fill="#4D4D4D" stroke="#4D4D4D" text-anchor="end">5</text>
<text x="56.1" y="414.41" font-size="7" fill="#4D4D4D" stroke="#4D4D4D" text-anchor="middle">0</text>
<text x="84.7" y="414.41" font-size="7" fill="#4D4D4D" stroke="#4D4D4D" text-anchor="middle">2</text>
<text x="113.3" y="414.41" font-size="7" fill="#4D4D4D" stroke="#4D4D4D" text-anchor="middle">4</text>
<text x="141.9" y="414.41" font-size="7" fill="#4D4D4D" stroke="#4D4D4D" text-anchor="middle">6</text>
<path d="M48.2 238.2H51.4M48.2 269.76H51.4M48.2 301.32H51.4M48.2 332.88H51.4M48.2 364.44H51.4M48.2 396H51.4M56.5 403V406M88.8 403V406M121.1 403V406M153.4 403V406" stroke="#333" stroke-width="0.9" fill="none"/>
<text x="52.7" y="225" font-size="7" fill="#1a1a1a" stroke="#1a1a1a">NMF1</text>
<text x="33.01" y="308.8" font-size="7" fill="#000" stroke="#000" text-anchor="middle" transform="rotate(-90 33.01 308.8)">log(Lymphocyte Density)</text>
<text x="110" y="422.91" font-size="7" fill="#000" stroke="#000" text-anchor="middle">log(Plasma Density)</text>
<text x="68.6" y="257.51" font-size="7" fill="#1a1a1a" stroke="#1a1a1a" text-anchor="middle">22.1%</text>
<text x="149.3" y="257.51" font-size="7" fill="#1a1a1a" stroke="#1a1a1a" text-anchor="middle">26.9%</text>
<text x="68.6" y="396.01" font-size="7" fill="#1a1a1a" stroke="#1a1a1a" text-anchor="middle">45.2%</text>
<text x="150.4" y="396.01" font-size="7" fill="#1a1a1a" stroke="#1a1a1a" text-anchor="middle">4.8%</text>
</g>
<g>
<rect x="209.8" y="230.4" width="60.3" height="83.8" fill="#FEE8CC"/>
<rect x="270.1" y="230.4" width="63.1" height="83.8" fill="#FDD3C4"/>
<rect x="209.8" y="314.2" width="60.3" height="88.8" fill="#CDCDE9"/>
<rect x="270.1" y="314.2" width="63.1" height="88.8" fill="#DEEBD6"/>
<path d="M215.4 230.4V403M231.55 230.4V403M247.7 230.4V403M263.85 230.4V403M280 230.4V403M296.15 230.4V403M312.3 230.4V403M328.45 230.4V403M209.8 238.2H333.2M209.8 253.98H333.2M209.8 269.76H333.2M209.8 285.54H333.2M209.8 301.32H333.2M209.8 317.1H333.2M209.8 332.88H333.2M209.8 348.66H333.2M209.8 364.44H333.2M209.8 380.22H333.2M209.8 396H333.2" stroke="#8c8c8c" stroke-opacity="0.12" stroke-width="0.8" fill="none"/>
<g fill="#2F4FA8">
<circle cx="215.2" cy="351.4" r="1.8"/><circle cx="231" cy="352.9" r="1.8"/><circle cx="236.8" cy="334.9" r="1.8"/><circle cx="237.4" cy="339.6" r="1.8"/><circle cx="238.6" cy="341.1" r="1.8"/><circle cx="239.5" cy="348.5" r="1.8"/><circle cx="233.5" cy="360.5" r="1.8"/><circle cx="239.7" cy="362.7" r="1.8"/><circle cx="236.7" cy="367.9" r="1.8"/><circle cx="242.5" cy="367.8" r="1.8"/><circle cx="233.5" cy="373.3" r="1.8"/><circle cx="242.7" cy="376.1" r="1.8"/><circle cx="243.7" cy="376.1" r="1.8"/><circle cx="227.6" cy="383.5" r="1.8"/><circle cx="229.4" cy="382.4" r="1.8"/><circle cx="234.5" cy="385.1" r="1.8"/><circle cx="238.6" cy="387.9" r="1.8"/><circle cx="245.9" cy="389.1" r="1.8"/><circle cx="241.5" cy="354.6" r="1.8"/><circle cx="243.4" cy="352.4" r="1.8"/><circle cx="245.4" cy="351.7" r="1.8"/><circle cx="247.6" cy="351.7" r="1.8"/><circle cx="244.4" cy="360.5" r="1.8"/><circle cx="245.9" cy="359" r="1.8"/><circle cx="247.3" cy="357.8" r="1.8"/><circle cx="250.3" cy="355.4" r="1.8"/><circle cx="248.1" cy="365.1" r="1.8"/><circle cx="250.5" cy="364.3" r="1.8"/><circle cx="256.1" cy="357.6" r="1.8"/><circle cx="260.8" cy="358.3" r="1.8"/><circle cx="246.6" cy="341.5" r="1.8"/><circle cx="250.7" cy="346.5" r="1.8"/><circle cx="254.6" cy="345.1" r="1.8"/><circle cx="253.2" cy="349.5" r="1.8"/><circle cx="259.5" cy="348.8" r="1.8"/><circle cx="260.5" cy="346.3" r="1.8"/><circle cx="262.4" cy="344.4" r="1.8"/><circle cx="265.3" cy="342.2" r="1.8"/><circle cx="269.2" cy="342.5" r="1.8"/><circle cx="253.2" cy="339.7" r="1.8"/><circle cx="254.6" cy="336.7" r="1.8"/><circle cx="256.1" cy="336.1" r="1.8"/><circle cx="258.7" cy="336.1" r="1.8"/><circle cx="262.4" cy="339.6" r="1.8"/><circle cx="264.1" cy="340.5" r="1.8"/><circle cx="265.7" cy="335.4" r="1.8"/><circle cx="266.3" cy="337.8" r="1.8"/><circle cx="244.1" cy="332.7" r="1.8"/><circle cx="247.3" cy="331.3" r="1.8"/><circle cx="249.5" cy="332" r="1.8"/><circle cx="247.8" cy="329.1" r="1.8"/><circle cx="248.4" cy="325" r="1.8"/><circle cx="251.7" cy="327.6" r="1.8"/><circle cx="253.2" cy="328.4" r="1.8"/><circle cx="255.4" cy="326.9" r="1.8"/><circle cx="256.8" cy="328.8" r="1.8"/><circle cx="258.3" cy="326.2" r="1.8"/><circle cx="259.7" cy="327.6" r="1.8"/><circle cx="261.2" cy="330.5" r="1.8"/><circle cx="259" cy="324" r="1.8"/><circle cx="262.7" cy="324.7" r="1.8"/><circle cx="252.4" cy="320.3" r="1.8"/><circle cx="254.6" cy="319.6" r="1.8"/><circle cx="262.2" cy="320.3" r="1.8"/><circle cx="267" cy="322.5" r="1.8"/><circle cx="268.1" cy="324.7" r="1.8"/><circle cx="266.3" cy="327.6" r="1.8"/><circle cx="267" cy="329.5" r="1.8"/><circle cx="269.2" cy="331" r="1.8"/><circle cx="255.4" cy="315.2" r="1.8"/><circle cx="256.1" cy="316.7" r="1.8"/><circle cx="264.1" cy="315.5" r="1.8"/><circle cx="265.6" cy="317.4" r="1.8"/><circle cx="267.5" cy="315.5" r="1.8"/><circle cx="268.9" cy="318.1" r="1.8"/><circle cx="264.9" cy="318.9" r="1.8"/>
</g>
<g fill="#FAA51E">
<circle cx="215.1" cy="313.2" r="1.8"/><circle cx="263.3" cy="268.5" r="1.8"/><circle cx="249.3" cy="301.9" r="1.8"/><circle cx="254.1" cy="301.5" r="1.8"/><circle cx="261.7" cy="297.6" r="1.8"/><circle cx="269.5" cy="297.6" r="1.8"/><circle cx="267.6" cy="301.9" r="1.8"/><circle cx="269.2" cy="302.4" r="1.8"/><circle cx="256.3" cy="305" r="1.8"/><circle cx="249.3" cy="309.4" r="1.8"/><circle cx="260" cy="308.2" r="1.8"/><circle cx="261.4" cy="308.5" r="1.8"/><circle cx="258.8" cy="310.4" r="1.8"/><circle cx="251.9" cy="313.8" r="1.8"/><circle cx="265.1" cy="312.6" r="1.8"/><circle cx="268" cy="310.7" r="1.8"/><circle cx="269.5" cy="310.1" r="1.8"/>
</g>
<g fill="#E61E28">
<circle cx="303.6" cy="274" r="1.8"/><circle cx="324.9" cy="277.1" r="1.8"/><circle cx="293.4" cy="290.5" r="1.8"/><circle cx="294.4" cy="293.4" r="1.8"/><circle cx="295.7" cy="296.5" r="1.8"/><circle cx="298.4" cy="299.4" r="1.8"/><circle cx="301.4" cy="293.4" r="1.8"/><circle cx="306.2" cy="293.5" r="1.8"/><circle cx="311.6" cy="290.3" r="1.8"/><circle cx="322.4" cy="292.3" r="1.8"/><circle cx="306" cy="300.3" r="1.8"/><circle cx="308.1" cy="299.7" r="1.8"/><circle cx="304" cy="305.2" r="1.8"/><circle cx="301.6" cy="308.6" r="1.8"/><circle cx="298.6" cy="312.8" r="1.8"/><circle cx="274.7" cy="294.3" r="1.8"/><circle cx="275.6" cy="293.6" r="1.8"/><circle cx="285.5" cy="297.2" r="1.8"/><circle cx="287.5" cy="297" r="1.8"/><circle cx="273.4" cy="300.3" r="1.8"/><circle cx="277.7" cy="300.6" r="1.8"/><circle cx="285.5" cy="301.2" r="1.8"/><circle cx="286.9" cy="302.5" r="1.8"/><circle cx="290.2" cy="304.8" r="1.8"/><circle cx="283.5" cy="304.4" r="1.8"/><circle cx="273.8" cy="306" r="1.8"/><circle cx="278.6" cy="306.4" r="1.8"/><circle cx="281.3" cy="306.8" r="1.8"/><circle cx="282.3" cy="307.1" r="1.8"/><circle cx="272.1" cy="310" r="1.8"/><circle cx="273.4" cy="310.3" r="1.8"/><circle cx="278.3" cy="311.1" r="1.8"/><circle cx="282.6" cy="311.1" r="1.8"/><circle cx="286.1" cy="310.3" r="1.8"/><circle cx="275.4" cy="313.3" r="1.8"/><circle cx="283.2" cy="312.9" r="1.8"/><circle cx="285.2" cy="313.3" r="1.8"/><circle cx="287.5" cy="313.5" r="1.8"/><circle cx="270.8" cy="311.6" r="1.8"/>
</g>
<g fill="#5AB43C">
<circle cx="300.6" cy="317.8" r="1.8"/><circle cx="288.2" cy="318.9" r="1.8"/><circle cx="278.4" cy="315.5" r="1.8"/><circle cx="281.6" cy="315.9" r="1.8"/><circle cx="271.1" cy="322.2" r="1.8"/><circle cx="276.2" cy="321.8" r="1.8"/><circle cx="279.5" cy="323.2" r="1.8"/><circle cx="283.1" cy="322.5" r="1.8"/><circle cx="272.2" cy="327.6" r="1.8"/><circle cx="280.2" cy="329.8" r="1.8"/><circle cx="284.6" cy="328.4" r="1.8"/><circle cx="285" cy="330.3" r="1.8"/><circle cx="291.1" cy="331.3" r="1.8"/><circle cx="272.2" cy="332" r="1.8"/><circle cx="273.2" cy="334.2" r="1.8"/><circle cx="293" cy="336.5" r="1.8"/><circle cx="280.2" cy="339" r="1.8"/><circle cx="281.6" cy="338.3" r="1.8"/><circle cx="274.6" cy="343.2" r="1.8"/><circle cx="280.6" cy="348.8" r="1.8"/>
</g>
<rect x="209.8" y="230.4" width="123.4" height="172.6" fill="none" stroke="#3a3a3a" stroke-width="0.8"/>
<text x="204.1" y="240.71" font-size="7" fill="#4D4D4D" stroke="#4D4D4D" text-anchor="end">10</text>
<text x="204.1" y="272.27" font-size="7" fill="#4D4D4D" stroke="#4D4D4D" text-anchor="end">9</text>
<text x="204.1" y="303.83" font-size="7" fill="#4D4D4D" stroke="#4D4D4D" text-anchor="end">8</text>
<text x="204.1" y="335.39" font-size="7" fill="#4D4D4D" stroke="#4D4D4D" text-anchor="end">7</text>
<text x="204.1" y="366.95" font-size="7" fill="#4D4D4D" stroke="#4D4D4D" text-anchor="end">6</text>
<text x="204.1" y="398.51" font-size="7" fill="#4D4D4D" stroke="#4D4D4D" text-anchor="end">5</text>
<text x="215" y="414.41" font-size="7" fill="#4D4D4D" stroke="#4D4D4D" text-anchor="middle">0</text>
<text x="243.6" y="414.41" font-size="7" fill="#4D4D4D" stroke="#4D4D4D" text-anchor="middle">2</text>
<text x="272.2" y="414.41" font-size="7" fill="#4D4D4D" stroke="#4D4D4D" text-anchor="middle">4</text>
<text x="300.8" y="414.41" font-size="7" fill="#4D4D4D" stroke="#4D4D4D" text-anchor="middle">6</text>
<path d="M206.6 238.2H209.8M206.6 269.76H209.8M206.6 301.32H209.8M206.6 332.88H209.8M206.6 364.44H209.8M206.6 396H209.8M215.4 403V406M247.7 403V406M280 403V406M312.3 403V406" stroke="#333" stroke-width="0.9" fill="none"/>
<text x="211.2" y="225" font-size="7" fill="#1a1a1a" stroke="#1a1a1a">NMF2</text>
<text x="196.91" y="308.8" font-size="7" fill="#000" stroke="#000" text-anchor="middle" transform="rotate(-90 196.91 308.8)">log(Lymphocyte Density)</text>
<text x="273.7" y="424.21" font-size="7" fill="#000" stroke="#000" text-anchor="middle">log(Plasma Density)</text>
<text x="227.7" y="257.51" font-size="7" fill="#1a1a1a" stroke="#1a1a1a" text-anchor="middle">10.6%</text>
<text x="310.5" y="257.51" font-size="7" fill="#1a1a1a" stroke="#1a1a1a" text-anchor="middle">22.9%</text>
<text x="228.8" y="396.01" font-size="7" fill="#1a1a1a" stroke="#1a1a1a" text-anchor="middle">52%</text>
<text x="310" y="396.01" font-size="7" fill="#1a1a1a" stroke="#1a1a1a" text-anchor="middle">14%</text>
</g>
<g>
<rect x="368.7" y="230.4" width="60.3" height="83.8" fill="#FEE8CC"/>
<rect x="429" y="230.4" width="63.1" height="83.8" fill="#FDD3C4"/>
<rect x="368.7" y="314.2" width="60.3" height="88.8" fill="#CDCDE9"/>
<rect x="429" y="314.2" width="63.1" height="88.8" fill="#DEEBD6"/>
<path d="M374.1 230.4V403M390.25 230.4V403M406.4 230.4V403M422.55 230.4V403M438.7 230.4V403M454.85 230.4V403M471 230.4V403M487.15 230.4V403M368.7 238.2H492.1M368.7 253.98H492.1M368.7 269.76H492.1M368.7 285.54H492.1M368.7 301.32H492.1M368.7 317.1H492.1M368.7 332.88H492.1M368.7 348.66H492.1M368.7 364.44H492.1M368.7 380.22H492.1M368.7 396H492.1" stroke="#8c8c8c" stroke-opacity="0.12" stroke-width="0.8" fill="none"/>
<g fill="#2F4FA8">
<circle cx="395.5" cy="341.2" r="1.8"/><circle cx="397.7" cy="368.8" r="1.8"/><circle cx="399.7" cy="358.7" r="1.8"/><circle cx="400.3" cy="351.7" r="1.8"/><circle cx="401.3" cy="345.9" r="1.8"/><circle cx="403.1" cy="347.3" r="1.8"/><circle cx="404.1" cy="348.1" r="1.8"/><circle cx="408.6" cy="353.2" r="1.8"/><circle cx="411.8" cy="350.3" r="1.8"/><circle cx="412.6" cy="350" r="1.8"/><circle cx="420.1" cy="354.2" r="1.8"/><circle cx="422" cy="347.3" r="1.8"/><circle cx="420.3" cy="342.5" r="1.8"/><circle cx="407.4" cy="341.5" r="1.8"/><circle cx="408.2" cy="343.4" r="1.8"/><circle cx="411.4" cy="337.1" r="1.8"/><circle cx="402.8" cy="334.5" r="1.8"/><circle cx="405.5" cy="331.3" r="1.8"/><circle cx="409.6" cy="331.3" r="1.8"/><circle cx="413.3" cy="332.3" r="1.8"/><circle cx="399.7" cy="323.2" r="1.8"/><circle cx="406.4" cy="323.2" r="1.8"/><circle cx="408.5" cy="326.9" r="1.8"/><circle cx="412.6" cy="321.1" r="1.8"/><circle cx="413.6" cy="318.9" r="1.8"/><circle cx="414.3" cy="317.1" r="1.8"/><circle cx="420.6" cy="315.5" r="1.8"/><circle cx="427.2" cy="315.5" r="1.8"/><circle cx="427.4" cy="317.7" r="1.8"/><circle cx="428.3" cy="319.6" r="1.8"/><circle cx="419.9" cy="320.3" r="1.8"/><circle cx="422" cy="319.3" r="1.8"/><circle cx="425" cy="321.8" r="1.8"/><circle cx="423.8" cy="324" r="1.8"/><circle cx="421.3" cy="324.4" r="1.8"/><circle cx="417.2" cy="324" r="1.8"/><circle cx="416.2" cy="325.9" r="1.8"/><circle cx="417.7" cy="329.1" r="1.8"/><circle cx="419.1" cy="330.5" r="1.8"/><circle cx="422.3" cy="330.1" r="1.8"/><circle cx="417.4" cy="332.7" r="1.8"/><circle cx="420.6" cy="332.7" r="1.8"/><circle cx="422.3" cy="332.3" r="1.8"/><circle cx="423.1" cy="334.2" r="1.8"/><circle cx="420.6" cy="336.8" r="1.8"/><circle cx="427.4" cy="336.8" r="1.8"/><circle cx="427.6" cy="329.8" r="1.8"/><circle cx="428.3" cy="326.9" r="1.8"/>
</g>
<g fill="#FAA51E">
<circle cx="373.7" cy="290" r="1.8"/><circle cx="415.6" cy="291.9" r="1.8"/><circle cx="418.5" cy="297.6" r="1.8"/><circle cx="425.5" cy="297.7" r="1.8"/><circle cx="428.4" cy="299.9" r="1.8"/><circle cx="406.8" cy="303.1" r="1.8"/><circle cx="422.2" cy="303.4" r="1.8"/><circle cx="425.4" cy="305.6" r="1.8"/><circle cx="413.8" cy="308.6" r="1.8"/><circle cx="417.5" cy="310.1" r="1.8"/><circle cx="419.2" cy="308.2" r="1.8"/><circle cx="428" cy="308.6" r="1.8"/><circle cx="426.8" cy="310.4" r="1.8"/><circle cx="427" cy="312.3" r="1.8"/>
</g>
<g fill="#E61E28">
<circle cx="448.8" cy="265.8" r="1.8"/><circle cx="441.3" cy="273.9" r="1.8"/><circle cx="467.1" cy="274.8" r="1.8"/><circle cx="468.4" cy="274.4" r="1.8"/><circle cx="463.8" cy="279.4" r="1.8"/><circle cx="465.3" cy="280.2" r="1.8"/><circle cx="465.3" cy="282.5" r="1.8"/><circle cx="466.1" cy="284.4" r="1.8"/><circle cx="462.2" cy="284.5" r="1.8"/><circle cx="438" cy="285.4" r="1.8"/><circle cx="451" cy="285.7" r="1.8"/><circle cx="452.2" cy="287.8" r="1.8"/><circle cx="454.5" cy="285.6" r="1.8"/><circle cx="457.8" cy="286.4" r="1.8"/><circle cx="459.4" cy="288.1" r="1.8"/><circle cx="462.8" cy="287.2" r="1.8"/><circle cx="435.2" cy="288.5" r="1.8"/><circle cx="433.9" cy="290.3" r="1.8"/><circle cx="440.4" cy="290.6" r="1.8"/><circle cx="438.6" cy="292.6" r="1.8"/><circle cx="433.4" cy="294.3" r="1.8"/><circle cx="443.5" cy="294.3" r="1.8"/><circle cx="445.4" cy="294.7" r="1.8"/><circle cx="453.7" cy="293.4" r="1.8"/><circle cx="455.3" cy="294.7" r="1.8"/><circle cx="458.4" cy="294.3" r="1.8"/><circle cx="461.3" cy="294.1" r="1.8"/><circle cx="436.3" cy="297.4" r="1.8"/><circle cx="457.8" cy="297.5" r="1.8"/><circle cx="456.6" cy="299.3" r="1.8"/><circle cx="433.2" cy="299.6" r="1.8"/><circle cx="442.9" cy="299.3" r="1.8"/><circle cx="445.2" cy="299.6" r="1.8"/><circle cx="432.4" cy="301.5" r="1.8"/><circle cx="438.6" cy="301.2" r="1.8"/><circle cx="437.3" cy="303" r="1.8"/><circle cx="433.6" cy="304.2" r="1.8"/><circle cx="429.6" cy="305.6" r="1.8"/><circle cx="459.7" cy="303.7" r="1.8"/><circle cx="464.9" cy="303.5" r="1.8"/><circle cx="453.5" cy="305.2" r="1.8"/><circle cx="450.7" cy="307.7" r="1.8"/><circle cx="453.8" cy="307.8" r="1.8"/><circle cx="433.6" cy="307.3" r="1.8"/><circle cx="436.7" cy="307.5" r="1.8"/><circle cx="439.2" cy="307.7" r="1.8"/><circle cx="437.3" cy="310.2" r="1.8"/><circle cx="439.8" cy="309.9" r="1.8"/><circle cx="444.8" cy="309.6" r="1.8"/><circle cx="446" cy="311" r="1.8"/><circle cx="433.2" cy="311.4" r="1.8"/><circle cx="435.5" cy="312.9" r="1.8"/><circle cx="437.6" cy="313.3" r="1.8"/><circle cx="445.4" cy="313.3" r="1.8"/><circle cx="455.9" cy="312.3" r="1.8"/><circle cx="463.6" cy="311.2" r="1.8"/>
</g>
<g fill="#5AB43C">
<circle cx="455.3" cy="315.4" r="1.8"/><circle cx="454.1" cy="317" r="1.8"/><circle cx="452.2" cy="318.2" r="1.8"/><circle cx="447.9" cy="318.2" r="1.8"/><circle cx="443.5" cy="315.8" r="1.8"/><circle cx="444.8" cy="317.6" r="1.8"/><circle cx="439.8" cy="317" r="1.8"/><circle cx="436.1" cy="318.2" r="1.8"/><circle cx="438.8" cy="318.5" r="1.8"/><circle cx="441.3" cy="319.7" r="1.8"/><circle cx="443.2" cy="321.3" r="1.8"/><circle cx="429.3" cy="323.5" r="1.8"/><circle cx="432" cy="324.5" r="1.8"/><circle cx="435.1" cy="324.2" r="1.8"/><circle cx="434.2" cy="325.4" r="1.8"/><circle cx="437.6" cy="330.7" r="1.8"/><circle cx="433.2" cy="334.6" r="1.8"/><circle cx="429.6" cy="339.6" r="1.8"/><circle cx="441" cy="341.1" r="1.8"/><circle cx="433" cy="334.9" r="1.8"/><circle cx="437.7" cy="330.8" r="1.8"/>
</g>
<rect x="368.7" y="230.4" width="123.4" height="172.6" fill="none" stroke="#3a3a3a" stroke-width="0.8"/>
<text x="363.6" y="240.71" font-size="7" fill="#4D4D4D" stroke="#4D4D4D" text-anchor="end">10</text>
<text x="363.6" y="272.27" font-size="7" fill="#4D4D4D" stroke="#4D4D4D" text-anchor="end">9</text>
<text x="363.6" y="303.83" font-size="7" fill="#4D4D4D" stroke="#4D4D4D" text-anchor="end">8</text>
<text x="363.6" y="335.39" font-size="7" fill="#4D4D4D" stroke="#4D4D4D" text-anchor="end">7</text>
<text x="363.6" y="366.95" font-size="7" fill="#4D4D4D" stroke="#4D4D4D" text-anchor="end">6</text>
<text x="363.6" y="398.51" font-size="7" fill="#4D4D4D" stroke="#4D4D4D" text-anchor="end">5</text>
<text x="373.7" y="414.41" font-size="7" fill="#4D4D4D" stroke="#4D4D4D" text-anchor="middle">0</text>
<text x="402.3" y="414.41" font-size="7" fill="#4D4D4D" stroke="#4D4D4D" text-anchor="middle">2</text>
<text x="430.9" y="414.41" font-size="7" fill="#4D4D4D" stroke="#4D4D4D" text-anchor="middle">4</text>
<text x="459.5" y="414.41" font-size="7" fill="#4D4D4D" stroke="#4D4D4D" text-anchor="middle">6</text>
<path d="M365.5 238.2H368.7M365.5 269.76H368.7M365.5 301.32H368.7M365.5 332.88H368.7M365.5 364.44H368.7M365.5 396H368.7M374.1 403V406M406.4 403V406M438.7 403V406M471 403V406" stroke="#333" stroke-width="0.9" fill="none"/>
<text x="370.5" y="225" font-size="7" fill="#1a1a1a" stroke="#1a1a1a">NMF3</text>
<text x="354.31" y="308.8" font-size="7" fill="#000" stroke="#000" text-anchor="middle" transform="rotate(-90 354.31 308.8)">log(Lymphocyte Density)</text>
<text x="432.7" y="425.51" font-size="7" fill="#000" stroke="#000" text-anchor="middle">log(Plasma Density)</text>
<text x="386.8" y="257.51" font-size="7" fill="#1a1a1a" stroke="#1a1a1a" text-anchor="middle">9.6%</text>
<text x="466.7" y="257.51" font-size="7" fill="#1a1a1a" stroke="#1a1a1a" text-anchor="middle">40.1%</text>
<text x="386" y="396.01" font-size="7" fill="#1a1a1a" stroke="#1a1a1a" text-anchor="middle">35.7%</text>
<text x="468" y="396.01" font-size="7" fill="#1a1a1a" stroke="#1a1a1a" text-anchor="middle">14%</text>
</g>
<g>
<rect x="527.5" y="230.4" width="60.3" height="83.8" fill="#FEE8CC"/>
<rect x="587.8" y="230.4" width="63.1" height="83.8" fill="#FDD3C4"/>
<rect x="527.5" y="314.2" width="60.3" height="88.8" fill="#CDCDE9"/>
<rect x="587.8" y="314.2" width="63.1" height="88.8" fill="#DEEBD6"/>
<path d="M532.9 230.4V403M549.05 230.4V403M565.2 230.4V403M581.35 230.4V403M597.5 230.4V403M613.65 230.4V403M629.8 230.4V403M645.95 230.4V403M527.5 238.2H650.9M527.5 253.98H650.9M527.5 269.76H650.9M527.5 285.54H650.9M527.5 301.32H650.9M527.5 317.1H650.9M527.5 332.88H650.9M527.5 348.66H650.9M527.5 364.44H650.9M527.5 380.22H650.9M527.5 396H650.9" stroke="#8c8c8c" stroke-opacity="0.12" stroke-width="0.8" fill="none"/>
<g fill="#2F4FA8">
<circle cx="559.6" cy="320.3" r="1.8"/><circle cx="570.1" cy="317.9" r="1.8"/><circle cx="571.1" cy="320.9" r="1.8"/><circle cx="572.7" cy="323.4" r="1.8"/><circle cx="579.3" cy="319.7" r="1.8"/><circle cx="584" cy="315.8" r="1.8"/><circle cx="585.4" cy="319.9" r="1.8"/><circle cx="581.3" cy="325" r="1.8"/><circle cx="565" cy="329.9" r="1.8"/><circle cx="567.6" cy="345.9" r="1.8"/><circle cx="575.2" cy="346.5" r="1.8"/><circle cx="578.7" cy="343.2" r="1.8"/><circle cx="584.8" cy="341.8" r="1.8"/><circle cx="551.3" cy="362.2" r="1.8"/><circle cx="583.4" cy="366.3" r="1.8"/><circle cx="586.4" cy="369.6" r="1.8"/><circle cx="569.3" cy="374.5" r="1.8"/><circle cx="558.4" cy="378.8" r="1.8"/>
</g>
<g fill="#FAA51E">
<circle cx="532.5" cy="286.3" r="1.8"/><circle cx="578.2" cy="277.6" r="1.8"/><circle cx="581.4" cy="292.4" r="1.8"/><circle cx="584.6" cy="295.5" r="1.8"/><circle cx="582.2" cy="297.6" r="1.8"/><circle cx="584.8" cy="297.3" r="1.8"/><circle cx="547.8" cy="306.5" r="1.8"/><circle cx="576.8" cy="311.4" r="1.8"/><circle cx="579.7" cy="310.4" r="1.8"/>
</g>
<g fill="#E61E28">
<circle cx="590.5" cy="248.8" r="1.8"/><circle cx="614" cy="266.2" r="1.8"/><circle cx="632.6" cy="266.6" r="1.8"/><circle cx="605.3" cy="274" r="1.8"/><circle cx="595.8" cy="276.7" r="1.8"/><circle cx="606.3" cy="278.4" r="1.8"/><circle cx="636.1" cy="273.5" r="1.8"/><circle cx="636.4" cy="278" r="1.8"/><circle cx="620.5" cy="280.5" r="1.8"/><circle cx="628.5" cy="281.5" r="1.8"/><circle cx="633.7" cy="281.7" r="1.8"/><circle cx="636.3" cy="282.9" r="1.8"/><circle cx="615.6" cy="283.5" r="1.8"/><circle cx="620.9" cy="284.1" r="1.8"/><circle cx="593.4" cy="283.8" r="1.8"/><circle cx="591.7" cy="285.6" r="1.8"/><circle cx="599.3" cy="285.6" r="1.8"/><circle cx="602.2" cy="284.4" r="1.8"/><circle cx="604.5" cy="284.4" r="1.8"/><circle cx="613.6" cy="286.4" r="1.8"/><circle cx="621.7" cy="287.2" r="1.8"/><circle cx="628.5" cy="285.8" r="1.8"/><circle cx="594.8" cy="288.1" r="1.8"/><circle cx="642.5" cy="289.2" r="1.8"/><circle cx="618" cy="289.7" r="1.8"/><circle cx="620.3" cy="292.2" r="1.8"/><circle cx="601.6" cy="290.1" r="1.8"/><circle cx="609.2" cy="290.5" r="1.8"/><circle cx="595.5" cy="292.5" r="1.8"/><circle cx="599.9" cy="292.5" r="1.8"/><circle cx="605.3" cy="292.8" r="1.8"/><circle cx="610.9" cy="293" r="1.8"/><circle cx="613.9" cy="294" r="1.8"/><circle cx="615.9" cy="293.4" r="1.8"/><circle cx="605.9" cy="294.6" r="1.8"/><circle cx="608" cy="295.1" r="1.8"/><circle cx="590.7" cy="295.1" r="1.8"/><circle cx="600.8" cy="296.3" r="1.8"/><circle cx="616.8" cy="296.3" r="1.8"/><circle cx="625.5" cy="296.3" r="1.8"/><circle cx="615" cy="298.6" r="1.8"/><circle cx="601" cy="299" r="1.8"/><circle cx="591.1" cy="300.4" r="1.8"/><circle cx="603.4" cy="302.5" r="1.8"/><circle cx="604.8" cy="302.5" r="1.8"/><circle cx="618.5" cy="302.5" r="1.8"/><circle cx="621.7" cy="301.2" r="1.8"/><circle cx="626.5" cy="300.8" r="1.8"/><circle cx="596.9" cy="303.6" r="1.8"/><circle cx="609.2" cy="304.7" r="1.8"/><circle cx="614.2" cy="303.9" r="1.8"/><circle cx="594" cy="305.7" r="1.8"/><circle cx="597.3" cy="305.7" r="1.8"/><circle cx="601.6" cy="306.2" r="1.8"/><circle cx="591.7" cy="307.4" r="1.8"/><circle cx="619.1" cy="307.4" r="1.8"/><circle cx="601.3" cy="308.2" r="1.8"/><circle cx="589.3" cy="309.4" r="1.8"/><circle cx="596.4" cy="310.1" r="1.8"/><circle cx="613.3" cy="310.7" r="1.8"/><circle cx="628.8" cy="310.7" r="1.8"/><circle cx="606.9" cy="311.5" r="1.8"/><circle cx="616.4" cy="312.1" r="1.8"/><circle cx="590.5" cy="312.7" r="1.8"/><circle cx="592.6" cy="312.3" r="1.8"/><circle cx="608" cy="313.2" r="1.8"/>
</g>
<g fill="#5AB43C">
<circle cx="588.9" cy="315.2" r="1.8"/><circle cx="595.6" cy="316.2" r="1.8"/><circle cx="593.6" cy="318.3" r="1.8"/><circle cx="601.7" cy="317.9" r="1.8"/><circle cx="606.5" cy="316.2" r="1.8"/><circle cx="606.5" cy="317.7" r="1.8"/><circle cx="618.1" cy="320.9" r="1.8"/><circle cx="600.7" cy="323.4" r="1.8"/><circle cx="594.6" cy="325.4" r="1.8"/><circle cx="594.2" cy="328.1" r="1.8"/><circle cx="589.5" cy="328.5" r="1.8"/><circle cx="594.4" cy="337.7" r="1.8"/><circle cx="602.4" cy="338.1" r="1.8"/>
</g>
<rect x="527.5" y="230.4" width="123.4" height="172.6" fill="none" stroke="#3a3a3a" stroke-width="0.8"/>
<text x="522.3" y="240.71" font-size="7" fill="#4D4D4D" stroke="#4D4D4D" text-anchor="end">10</text>
<text x="522.3" y="272.27" font-size="7" fill="#4D4D4D" stroke="#4D4D4D" text-anchor="end">9</text>
<text x="522.3" y="303.83" font-size="7" fill="#4D4D4D" stroke="#4D4D4D" text-anchor="end">8</text>
<text x="522.3" y="335.39" font-size="7" fill="#4D4D4D" stroke="#4D4D4D" text-anchor="end">7</text>
<text x="522.3" y="366.95" font-size="7" fill="#4D4D4D" stroke="#4D4D4D" text-anchor="end">6</text>
<text x="522.3" y="398.51" font-size="7" fill="#4D4D4D" stroke="#4D4D4D" text-anchor="end">5</text>
<text x="532.5" y="414.41" font-size="7" fill="#4D4D4D" stroke="#4D4D4D" text-anchor="middle">0</text>
<text x="561.1" y="414.41" font-size="7" fill="#4D4D4D" stroke="#4D4D4D" text-anchor="middle">2</text>
<text x="589.7" y="414.41" font-size="7" fill="#4D4D4D" stroke="#4D4D4D" text-anchor="middle">4</text>
<text x="618.3" y="414.41" font-size="7" fill="#4D4D4D" stroke="#4D4D4D" text-anchor="middle">6</text>
<path d="M524.3 238.2H527.5M524.3 269.76H527.5M524.3 301.32H527.5M524.3 332.88H527.5M524.3 364.44H527.5M524.3 396H527.5M532.9 403V406M565.2 403V406M597.5 403V406M629.8 403V406" stroke="#333" stroke-width="0.9" fill="none"/>
<text x="529" y="225" font-size="7" fill="#1a1a1a" stroke="#1a1a1a">NMF4</text>
<text x="514.31" y="308.8" font-size="7" fill="#000" stroke="#000" text-anchor="middle" transform="rotate(-90 514.31 308.8)">log(Lymphocyte Density)</text>
<text x="597.6" y="425.71" font-size="7" fill="#000" stroke="#000" text-anchor="middle">log(Plasma Density)</text>
<text x="545.4" y="257.51" font-size="7" fill="#1a1a1a" stroke="#1a1a1a" text-anchor="middle">7.4%</text>
<text x="625.8" y="257.21" font-size="7" fill="#1a1a1a" stroke="#1a1a1a" text-anchor="middle">65.3%</text>
<text x="545.1" y="396.01" font-size="7" fill="#1a1a1a" stroke="#1a1a1a" text-anchor="middle">14.9%</text>
<text x="625.7" y="396.01" font-size="7" fill="#1a1a1a" stroke="#1a1a1a" text-anchor="middle">11.6%</text>
</g>
<g>
<text x="79" y="479.61" font-size="7" fill="#333" stroke="#333" text-anchor="middle">HR (95% CI)</text>
<text x="141" y="479.81" font-size="7" fill="#333" stroke="#333" text-anchor="middle">ABCP mPFS</text>
<text x="191.7" y="479.61" font-size="7" fill="#333" stroke="#333" text-anchor="middle">BCP mPFS</text>
<text x="40.5" y="501.17" font-size="8.3" fill="#E41A1C" stroke="#E41A1C" text-anchor="middle" font-weight="bold">HH</text>
<text x="81" y="501.11" font-size="7" fill="#1a1a1a" stroke="#1a1a1a" text-anchor="middle">0.47 (0.33−0.68)</text>
<text x="137" y="501.11" font-size="7" fill="#1a1a1a" stroke="#1a1a1a" text-anchor="middle">12.6</text>
<text x="192.5" y="500.31" font-size="7" fill="#1a1a1a" stroke="#1a1a1a" text-anchor="middle">9.0</text>
<text x="41" y="537.47" font-size="8.3" fill="#F5A623" stroke="#F5A623" text-anchor="middle" font-weight="bold">LH</text>
<text x="81.7" y="538.31" font-size="7" fill="#1a1a1a" stroke="#1a1a1a" text-anchor="middle">0.84 (0.44−1.58)</text>
<text x="138" y="538.31" font-size="7" fill="#1a1a1a" stroke="#1a1a1a" text-anchor="middle">5.6</text>
<text x="192.5" y="538.11" font-size="7" fill="#1a1a1a" stroke="#1a1a1a" text-anchor="middle">7.1</text>
<text x="40" y="574.97" font-size="8.3" fill="#3DAA4E" stroke="#3DAA4E" text-anchor="middle" font-weight="bold">HL</text>
<text x="81" y="575.31" font-size="7" fill="#1a1a1a" stroke="#1a1a1a" text-anchor="middle">0.82 (0.43−1.58)</text>
<text x="137.7" y="575.31" font-size="7" fill="#1a1a1a" stroke="#1a1a1a" text-anchor="middle">9.0</text>
<text x="193.2" y="574.81" font-size="7" fill="#1a1a1a" stroke="#1a1a1a" text-anchor="middle">7.2</text>
<text x="39.7" y="614.17" font-size="8.3" fill="#3B4FA8" stroke="#3B4FA8" text-anchor="middle" font-weight="bold">LL</text>
<text x="81" y="613.11" font-size="7" fill="#1a1a1a" stroke="#1a1a1a" text-anchor="middle">0.79 (0.57−1.11)</text>
<text x="137.7" y="613.11" font-size="7" fill="#1a1a1a" stroke="#1a1a1a" text-anchor="middle">8.1</text>
<text x="195" y="612.61" font-size="7" fill="#1a1a1a" stroke="#1a1a1a" text-anchor="middle">6.5</text>
<text x="385.7" y="479.11" font-size="7" fill="#333" stroke="#333" text-anchor="middle">HR (95% CI)</text>
<text x="450.2" y="479.61" font-size="7" fill="#333" stroke="#333" text-anchor="middle">ACP mPFS</text>
<text x="498.7" y="479.61" font-size="7" fill="#333" stroke="#333" text-anchor="middle">BCP mPFS</text>
<text x="394" y="502.11" font-size="7" fill="#1a1a1a" stroke="#1a1a1a" text-anchor="middle">0.88 (0.61−1.26)</text>
<text x="453.2" y="502.11" font-size="7" fill="#1a1a1a" stroke="#1a1a1a" text-anchor="middle">7.0</text>
<text x="492.5" y="502.11" font-size="7" fill="#1a1a1a" stroke="#1a1a1a" text-anchor="middle">9.0</text>
<text x="394.6" y="533.81" font-size="7" fill="#1a1a1a" stroke="#1a1a1a" text-anchor="middle">1.09 (0.59−2.01)</text>
<text x="452.2" y="533.31" font-size="7" fill="#1a1a1a" stroke="#1a1a1a" text-anchor="middle">5.8</text>
<text x="490" y="532.11" font-size="7" fill="#1a1a1a" stroke="#1a1a1a" text-anchor="middle">7.1</text>
<text x="397.4" y="573.31" font-size="7" fill="#1a1a1a" stroke="#1a1a1a" text-anchor="middle">1.96 (1.05−3.64)</text>
<text x="454.2" y="573.61" font-size="7" fill="#1a1a1a" stroke="#1a1a1a" text-anchor="middle">4.7</text>
<text x="487.5" y="574.61" font-size="7" fill="#1a1a1a" stroke="#1a1a1a" text-anchor="middle">7.2</text>
<text x="397.6" y="612.31" font-size="7" fill="#1a1a1a" stroke="#1a1a1a" text-anchor="middle">0.94 (0.67−1.34)</text>
<text x="456.2" y="612.81" font-size="7" fill="#1a1a1a" stroke="#1a1a1a" text-anchor="middle">7.0</text>
<text x="488.5" y="611.81" font-size="7" fill="#1a1a1a" stroke="#1a1a1a" text-anchor="middle">6.5</text>
<path d="M199.2 633.5H313.6" stroke="#2a2a2a" stroke-width="1" fill="none"/>
<path d="M200.7 633.5V636M238.2 633.5V636M275.7 633.5V636M313.2 633.5V636" stroke="#111" stroke-width="1.2" fill="none"/>
<text x="200.5" y="642.75" font-size="7.4" fill="#4D4D4D" stroke="#4D4D4D" text-anchor="middle">0.0</text>
<text x="238" y="642.75" font-size="7.4" fill="#4D4D4D" stroke="#4D4D4D" text-anchor="middle">0.5</text>
<text x="275.5" y="642.75" font-size="7.4" fill="#4D4D4D" stroke="#4D4D4D" text-anchor="middle">1.0</text>
<text x="313" y="642.75" font-size="7.4" fill="#4D4D4D" stroke="#4D4D4D" text-anchor="middle">1.5</text>
<text x="263" y="652.51" font-size="7" fill="#1a1a1a" stroke="#1a1a1a" text-anchor="middle">HR</text>
<path d="M225.25 498.2H251.5" stroke="#000" stroke-width="1.3"/>
<circle cx="235.75" cy="498.2" r="2.6" fill="#E41A1C"/>
<path d="M233.5 534.5H319" stroke="#000" stroke-width="1.3"/>
<circle cx="263.5" cy="534.5" r="2.6" fill="#F5A21E"/>
<path d="M232.75 572.5H319" stroke="#000" stroke-width="1.3"/>
<circle cx="262" cy="572.5" r="2.6" fill="#4DAF4A"/>
<path d="M243.25 611.2H283.75" stroke="#000" stroke-width="1.3"/>
<circle cx="259.75" cy="611.2" r="2.6" fill="#27408B"/>
<path d="M275.2 453.5V458" stroke="#999" stroke-width="0.6"/>
<path d="M275.2 458.2V463.8M275.2 469.4V635.6" stroke="#000" stroke-width="1.5" stroke-dasharray="5.3 4.7"/>
<text x="216.7" y="461.8" font-size="6.5" fill="#444" stroke="#444" textLength="15.8" lengthAdjust="spacingAndGlyphs" style="stroke-width:0">&lt;---</text>
<text x="238" y="462.8" font-size="9.2" fill="#222" stroke="#222">Favours</text>
<text x="238" y="474" font-size="9.2" fill="#222" stroke="#222">ABCP</text>
<text x="280.2" y="462.8" font-size="9.2" fill="#222" stroke="#222">Favours</text>
<text x="316.2" y="461.8" font-size="6.5" fill="#444" stroke="#444" textLength="15" lengthAdjust="spacingAndGlyphs" style="stroke-width:0">---&gt;</text>
<text x="280.2" y="474" font-size="9.2" fill="#222" stroke="#222">BCP</text>
<path d="M527.7 633.5H663.2" stroke="#2a2a2a" stroke-width="1" fill="none"/>
<path d="M533.7 633.5V636M558.8 633.5V636M583.9 633.5V636M609 633.5V636M634.1 633.5V636M659.2 633.5V636" stroke="#111" stroke-width="1.2" fill="none"/>
<text x="533.8" y="642.95" font-size="7.4" fill="#4D4D4D" stroke="#4D4D4D" text-anchor="middle">0.0</text>
<text x="558.9" y="642.95" font-size="7.4" fill="#4D4D4D" stroke="#4D4D4D" text-anchor="middle">0.5</text>
<text x="584" y="642.95" font-size="7.4" fill="#4D4D4D" stroke="#4D4D4D" text-anchor="middle">1.0</text>
<text x="609.1" y="642.95" font-size="7.4" fill="#4D4D4D" stroke="#4D4D4D" text-anchor="middle">1.5</text>
<text x="634.2" y="642.95" font-size="7.4" fill="#4D4D4D" stroke="#4D4D4D" text-anchor="middle">2.0</text>
<text x="659.3" y="642.95" font-size="7.4" fill="#4D4D4D" stroke="#4D4D4D" text-anchor="middle">2.5</text>
<text x="595.7" y="652.21" font-size="7" fill="#1a1a1a" stroke="#1a1a1a" text-anchor="middle">HR</text>
<path d="M564.12 496H596.75" stroke="#000" stroke-width="1.3"/>
<circle cx="577.68" cy="496" r="2.6" fill="#E41A1C"/>
<path d="M563.12 534.5H634.4" stroke="#000" stroke-width="1.3"/>
<circle cx="588.22" cy="534.5" r="2.6" fill="#F5A21E"/>
<path d="M586.21 572.5H685" stroke="#000" stroke-width="1.3"/>
<path d="M660.2 569.3L665.9 572.5L660.2 575.7" stroke="#000" stroke-width="1.3" fill="none"/>
<circle cx="631.89" cy="572.5" r="2.6" fill="#4DAF4A"/>
<path d="M567.13 611.2H600.77" stroke="#000" stroke-width="1.3"/>
<circle cx="580.69" cy="611.2" r="2.6" fill="#27408B"/>
<path d="M583.7 453.5V458" stroke="#999" stroke-width="0.6"/>
<path d="M583.7 458.2V463.8M583.7 469.4V635.6" stroke="#000" stroke-width="1.5" stroke-dasharray="5.3 4.7"/>
<text x="522.7" y="461.3" font-size="6.5" fill="#444" stroke="#444" textLength="15.8" lengthAdjust="spacingAndGlyphs" style="stroke-width:0">&lt;---</text>
<text x="545.7" y="462.3" font-size="9.2" fill="#222" stroke="#222">Favours</text>
<text x="545.7" y="473.3" font-size="9.2" fill="#222" stroke="#222">ACP</text>
<text x="588" y="462.3" font-size="9.2" fill="#222" stroke="#222">Favours</text>
<text x="623.5" y="461.3" font-size="6.5" fill="#444" stroke="#444" textLength="15.5" lengthAdjust="spacingAndGlyphs" style="stroke-width:0">---&gt;</text>
<text x="588" y="473.3" font-size="9.2" fill="#222" stroke="#222">BCP</text>
</g>
<g>
<rect x="40.5" y="677.4" width="45.2" height="230.83" fill="#F3736C" stroke="#000" stroke-width="1.2"/>
<rect x="40.5" y="908.23" width="45.2" height="6.97" fill="#2DB24A" stroke="#000" stroke-width="1.2"/>
<rect x="40.5" y="915.2" width="45.2" height="2.4" fill="#7094D2" stroke="#000" stroke-width="1.2"/>
<text x="65.1" y="796.22" font-size="7" fill="#1a1a1a" stroke="#1a1a1a" text-anchor="middle">96.1%</text>
<text x="65.1" y="914.72" font-size="7" fill="#1a1a1a" stroke="#1a1a1a" text-anchor="middle">2.9%</text>
<text x="76.7" y="917.51" font-size="7" fill="#f4f4f4" stroke="#f4f4f4" text-anchor="middle">1%</text>
<text x="66.6" y="925.81" font-size="7" fill="#333" stroke="#333" text-anchor="middle">NMF1</text>
<path d="M63.1 917.5V920" stroke="#333" stroke-width="0.9"/>
<rect x="90.5" y="677.4" width="45.2" height="219.54" fill="#F3736C" stroke="#000" stroke-width="1.2"/>
<rect x="90.5" y="896.94" width="45.2" height="12.97" fill="#2DB24A" stroke="#000" stroke-width="1.2"/>
<rect x="90.5" y="909.91" width="45.2" height="7.69" fill="#7094D2" stroke="#000" stroke-width="1.2"/>
<text x="115.1" y="790.58" font-size="7" fill="#1a1a1a" stroke="#1a1a1a" text-anchor="middle">91.4%</text>
<text x="115.1" y="906.83" font-size="7" fill="#1a1a1a" stroke="#1a1a1a" text-anchor="middle">5.4%</text>
<text x="115.1" y="916.86" font-size="7" fill="#f4f4f4" stroke="#f4f4f4" text-anchor="middle">3.2%</text>
<text x="116.6" y="925.81" font-size="7" fill="#333" stroke="#333" text-anchor="middle">NMF2</text>
<path d="M113.1 917.5V920" stroke="#333" stroke-width="0.9"/>
<rect x="140.3" y="677.4" width="45.2" height="191.2" fill="#F3736C" stroke="#000" stroke-width="1.2"/>
<rect x="140.3" y="868.6" width="45.2" height="33.15" fill="#2DB24A" stroke="#000" stroke-width="1.2"/>
<rect x="140.3" y="901.75" width="45.2" height="15.85" fill="#7094D2" stroke="#000" stroke-width="1.2"/>
<text x="164.9" y="776.41" font-size="7" fill="#1a1a1a" stroke="#1a1a1a" text-anchor="middle">79.6%</text>
<text x="164.9" y="888.58" font-size="7" fill="#1a1a1a" stroke="#1a1a1a" text-anchor="middle">13.8%</text>
<text x="164.9" y="912.78" font-size="7" fill="#f4f4f4" stroke="#f4f4f4" text-anchor="middle">6.6%</text>
<text x="166.4" y="925.81" font-size="7" fill="#333" stroke="#333" text-anchor="middle">NMF3</text>
<path d="M162.9 917.5V920" stroke="#333" stroke-width="0.9"/>
<rect x="190.4" y="677.4" width="45.3" height="157.57" fill="#F3736C" stroke="#000" stroke-width="1.2"/>
<rect x="190.4" y="834.97" width="45.3" height="51.16" fill="#2DB24A" stroke="#000" stroke-width="1.2"/>
<rect x="190.4" y="886.13" width="45.3" height="31.47" fill="#7094D2" stroke="#000" stroke-width="1.2"/>
<text x="215.05" y="759.59" font-size="7" fill="#1a1a1a" stroke="#1a1a1a" text-anchor="middle">65.6%</text>
<text x="215.05" y="863.96" font-size="7" fill="#1a1a1a" stroke="#1a1a1a" text-anchor="middle">21.3%</text>
<text x="215.05" y="904.97" font-size="7" fill="#f4f4f4" stroke="#f4f4f4" text-anchor="middle">13.1%</text>
<text x="216.55" y="925.81" font-size="7" fill="#333" stroke="#333" text-anchor="middle">NMF4</text>
<path d="M213.05 917.5V920" stroke="#333" stroke-width="0.9"/>
<text x="34" y="919.61" font-size="7" fill="#4D4D4D" stroke="#4D4D4D" text-anchor="end">0.00</text>
<text x="34" y="859.61" font-size="7" fill="#4D4D4D" stroke="#4D4D4D" text-anchor="end">0.25</text>
<text x="34" y="799.61" font-size="7" fill="#4D4D4D" stroke="#4D4D4D" text-anchor="end">0.50</text>
<text x="34" y="739.61" font-size="7" fill="#4D4D4D" stroke="#4D4D4D" text-anchor="end">0.75</text>
<text x="34" y="679.61" font-size="7" fill="#4D4D4D" stroke="#4D4D4D" text-anchor="end">1.00</text>
<path d="M38.4 917.1H40M38.4 857.1H40M38.4 797.1H40M38.4 737.1H40M38.4 677.1H40" stroke="#333" stroke-width="0.9" fill="none"/>
<text x="8.33" y="790.5" font-size="9.3" fill="#000" stroke="#000" text-anchor="middle" transform="rotate(-90 8.33 790.5)">Fraction of patients</text>
<text x="241.5" y="784.8" font-size="7" fill="#1a1a1a" stroke="#1a1a1a">TLS</text>
<rect x="241.6" y="788.8" width="8.3" height="8.2" fill="#F3736C" stroke="#000" stroke-width="0.9"/>
<text x="252.6" y="796.01" font-size="7" fill="#1a1a1a" stroke="#1a1a1a" xml:space="preserve">No TLS</text>
<rect x="241.6" y="799.9" width="8.3" height="7.8" fill="#2DB24A" stroke="#000" stroke-width="0.9"/>
<text x="252.6" y="805.91" font-size="7" fill="#1a1a1a" stroke="#1a1a1a" xml:space="preserve">Immature TLS</text>
<rect x="241.6" y="813.6" width="8.3" height="8.2" fill="#7094D2" stroke="#000" stroke-width="0.9"/>
<text x="252.6" y="820.21" font-size="7" fill="#1a1a1a" stroke="#1a1a1a" xml:space="preserve">Mature  TLS</text>
</g>
</svg>
</body></html>
